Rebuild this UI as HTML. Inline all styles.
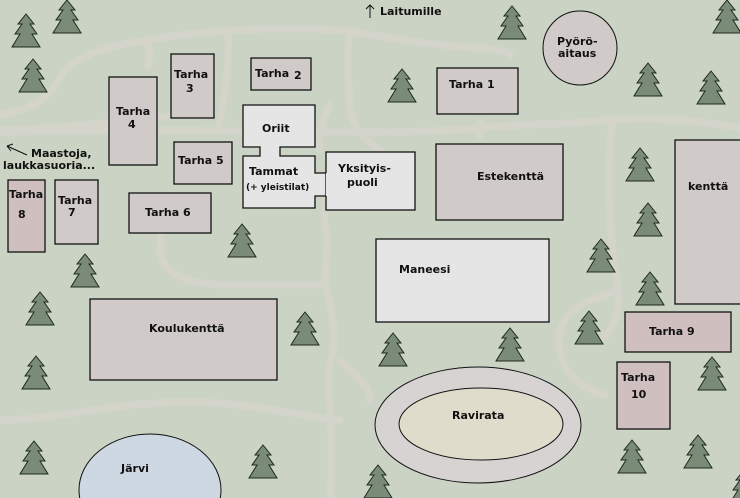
<!DOCTYPE html>
<html><head><meta charset="utf-8"><style>
html,body{margin:0;padding:0;background:#cbd4c4;width:740px;height:498px;overflow:hidden}
svg{display:block}
text{font-family:"DejaVu Sans","Liberation Sans",sans-serif;font-weight:bold;font-size:11px;fill:#111}
</style></head><body>
<svg width="740" height="498" viewBox="0 0 740 498" xmlns="http://www.w3.org/2000/svg">
<defs>
<g id="t">
<polygon points="14,0 6,10 10,10 3,20 8,20 0,33 28,33 20,20 25,20 18,10 22,10" fill="#7a8b78" stroke="#1e2a1e" stroke-width="1"/>
</g>
</defs>
<rect width="740" height="498" fill="#cbd4c4"/>
<g fill="none" stroke="#d8d4cf" stroke-width="7" stroke-linecap="round" stroke-linejoin="round" opacity="0.7">
<path d="M0,115 C30,110 50,100 65,70 C80,55 110,45 150,40 C200,30 300,25 350,32 C380,35 420,45 480,48 C500,50 510,52 510,55"/>
<path d="M228,32 C230,60 225,100 218,130"/>
<path d="M148,40 C150,50 150,60 148,65"/>
<path d="M350,30 C345,60 350,90 350,110 C355,130 365,140 380,150"/>
<path d="M0,130 C60,130 120,120 180,115"/>
<path d="M330,105 C320,125 318,140 320,150"/>
<path d="M0,132 C100,130 200,130 300,132 C350,133 440,132 480,128 C520,124 560,125 610,120 C650,117 700,120 740,128"/>
<path d="M480,122 L480,135"/>
<path d="M612,122 C605,180 610,240 618,290 C620,310 615,330 600,340"/>
<path d="M618,290 C600,300 570,300 560,330 C555,360 570,385 605,395"/>
<path d="M0,420 C60,420 120,400 200,402 C260,404 320,420 340,420"/>
<path d="M160,255 C165,275 190,285 230,285 C280,285 310,285 325,285 C330,300 340,340 330,362 C325,390 335,420 330,498"/>
<path d="M325,285 C325,260 330,240 325,225 C322,205 330,195 320,185"/>
<path d="M160,255 C160,240 162,225 160,215"/>
<path d="M340,360 C355,375 370,385 370,400"/>
</g>
<g>
<use href="#t" x="12" y="14"/><use href="#t" x="53" y="0"/><use href="#t" x="19" y="59"/>
<use href="#t" x="498" y="6"/><use href="#t" x="713" y="0"/><use href="#t" x="388" y="69"/>
<use href="#t" x="634" y="63"/><use href="#t" x="697" y="71"/><use href="#t" x="626" y="148"/>
<use href="#t" x="634" y="203"/><use href="#t" x="587" y="239"/><use href="#t" x="228" y="224"/>
<use href="#t" x="71" y="254"/><use href="#t" x="26" y="292"/><use href="#t" x="22" y="356"/>
<use href="#t" x="20" y="441"/><use href="#t" x="249" y="445"/><use href="#t" x="291" y="312"/>
<use href="#t" x="379" y="333"/><use href="#t" x="496" y="328"/><use href="#t" x="575" y="311"/>
<use href="#t" x="636" y="272"/><use href="#t" x="698" y="357"/><use href="#t" x="618" y="440"/>
<use href="#t" x="684" y="435"/><use href="#t" x="364" y="465"/><use href="#t" x="730" y="470"/>
</g>
<g stroke="#111" stroke-width="1.3">
<rect x="251" y="58" width="60" height="32" fill="#d0cac8"/>
<rect x="171" y="54" width="43" height="64" fill="#d0cac8"/>
<rect x="109" y="77" width="48" height="88" fill="#d0cac8"/>
<rect x="174" y="142" width="58" height="42" fill="#d0cac8"/>
<rect x="129" y="193" width="82" height="40" fill="#d0cac8"/>
<rect x="55" y="180" width="43" height="64" fill="#d0cac8"/>
<rect x="8" y="180" width="37" height="72" fill="#cfbfbf"/>
<rect x="437" y="68" width="81" height="46" fill="#d0cac8"/>
<rect x="436" y="144" width="127" height="76" fill="#d0cac8"/>
<rect x="675" y="140" width="70" height="164" fill="#d0cac8"/>
<rect x="376" y="239" width="173" height="83" fill="#e5e5e5"/>
<rect x="90" y="299" width="187" height="81" fill="#d0cac8"/>
<rect x="625" y="312" width="106" height="40" fill="#cfbfbf"/>
<rect x="617" y="362" width="53" height="67" fill="#cfbfbf"/>
<rect x="326" y="152" width="89" height="58" fill="#e5e5e5"/>
<path d="M243,105 H315 V147 H280 V156 H315 V173 H326 V196 H315 V208 H243 V156 H260 V147 H243 Z" fill="#e5e5e5"/>
<circle cx="580" cy="48" r="37" fill="#d0cac8" stroke-width="1"/>
<ellipse cx="478" cy="425" rx="103" ry="58" fill="#d8d3d3" stroke-width="1"/>
<ellipse cx="481" cy="424" rx="82" ry="36" fill="#e0dccb" stroke-width="1"/>
<ellipse cx="150" cy="490" rx="71" ry="56" fill="#cdd8e3" stroke-width="1"/>
</g>
<line x1="327" y1="173" x2="327" y2="196" stroke="#e5e5e5" stroke-width="2"/>
<text x="255" y="77">Tarha</text><text x="294" y="79">2</text>
<text x="174" y="78">Tarha</text><text x="186" y="92">3</text>
<text x="116" y="115">Tarha</text><text x="128" y="128">4</text>
<text x="178" y="164">Tarha 5</text>
<text x="145" y="216">Tarha 6</text>
<text x="58" y="204">Tarha</text><text x="68" y="216">7</text>
<text x="9" y="198">Tarha</text><text x="18" y="218">8</text>
<text x="262" y="132">Oriit</text>
<text x="249" y="175">Tammat</text>
<text x="246" y="190" style="font-size:9px">(+ yleistilat)</text>
<text x="338" y="172">Yksityis-</text><text x="347" y="186">puoli</text>
<text x="449" y="88">Tarha 1</text>
<text x="477" y="180">Estekenttä</text>
<text x="688" y="190">kenttä</text>
<text x="399" y="273">Maneesi</text>
<text x="149" y="332">Koulukenttä</text>
<text x="649" y="335">Tarha 9</text>
<text x="621" y="381">Tarha</text><text x="631" y="398">10</text>
<text x="452" y="419">Ravirata</text>
<text x="121" y="472">Järvi</text>
<text x="557" y="45">Pyörö-</text><text x="558" y="57">aitaus</text>
<text x="380" y="15">Laitumille</text>
<path d="M370,18 V5 M366,9 L370,5 L374,9" stroke="#111" fill="none" stroke-width="1"/>
<text x="31" y="157">Maastoja,</text><text x="3" y="169">laukkasuoria...</text>
<path d="M27,155 L7,146 M7,146 L13,144 M7,146 L11,151" stroke="#111" fill="none" stroke-width="1"/>
</svg>
</body></html>
